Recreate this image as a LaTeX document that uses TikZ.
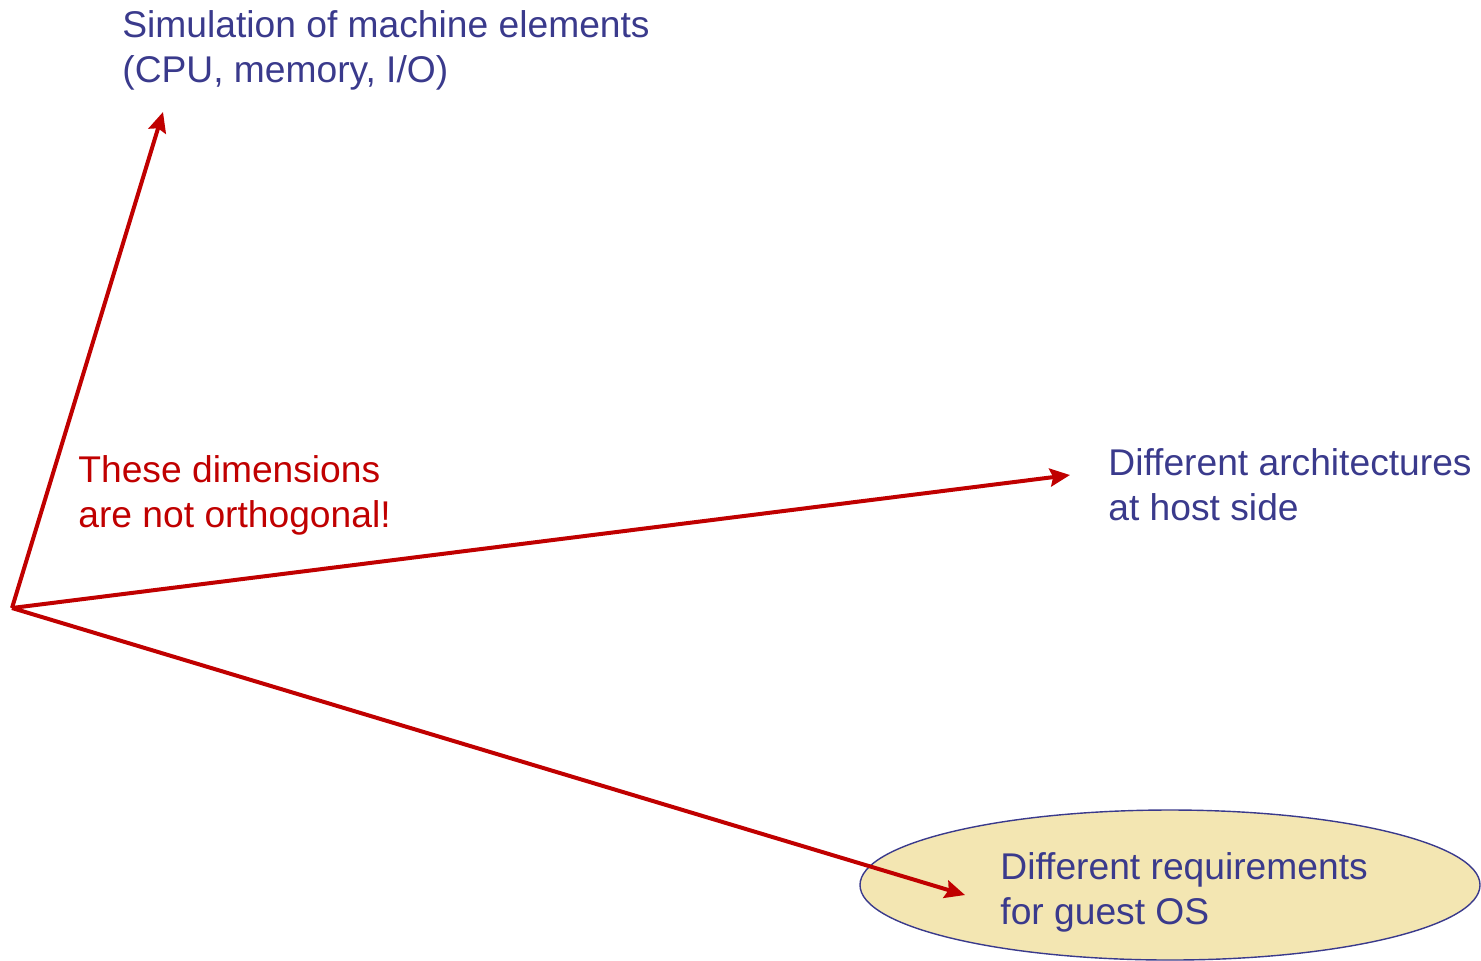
\documentclass[tikz,border=0pt]{standalone}
\usepackage{fontspec}
\setmainfont{Liberation Sans}
\usetikzlibrary{arrows.meta,shapes.geometric}
\definecolor{arrowcolor}{RGB}{192, 0, 0}
\definecolor{labelcolor}{RGB}{58, 58, 140}
\definecolor{ovalfill}{RGB}{243, 230, 178}

\begin{document}
\begin{tikzpicture}[x=0.5pt, y=-0.5pt,
    dimlabel/.style={anchor=base west, align=left, inner sep=0pt, text=labelcolor, font=\fontsize{18.6}{22.5}\selectfont},
    note/.style={dimlabel, text=arrowcolor},
    oval/.style={ellipse, draw=labelcolor, fill=ovalfill, line width=0.7pt, minimum width=310pt, minimum height=75pt},
    axis/.style={draw, line width=2pt, arrowcolor, -{Stealth[inset=1.5pt, length=10pt, width=9pt]}}
    ]
    \useasboundingbox (0,0) rectangle (1481,960);

    % Oval behind the last label
    \node[oval] (guest) at (1170,885) {};

    % Labels (anchored at the baseline of the last line)
    \node[dimlabel] (machine) at (122,82) {Simulation of machine elements\\(CPU, memory, I/O)};
    \node[dimlabel] (host) at (1108,520) {Different architectures\\at host side};
    \node[dimlabel] (req) at (1000,924) {Different requirements\\for guest OS};
    \node[note] (remark) at (78,527) {These dimensions\\are not orthogonal!};

    % Axes
    \coordinate (O) at (12,608);
    \coordinate (A) at (163,112);
    \coordinate (B) at (1070,475);
    \coordinate (C) at (965,895);
    \foreach \e in {A,B,C}
        \draw[axis] (O) -- (\e);
\end{tikzpicture}
\end{document}
